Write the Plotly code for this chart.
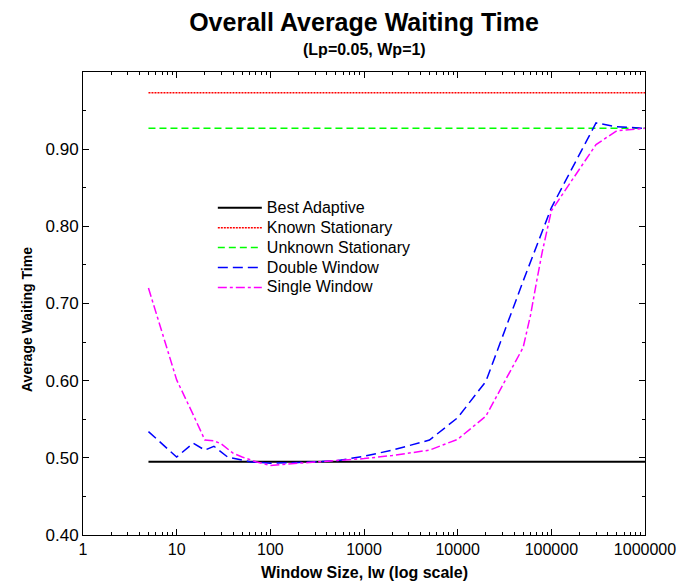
import plotly.graph_objects as go

# ---- data ----
x_flat = [5, 1000000]
best_adaptive = [0.495, 0.495]
known_stationary = [0.973, 0.973]
unknown_stationary = [0.927, 0.927]

double_x = [5, 10, 15, 20, 25, 35, 60, 100, 200, 300, 500, 1000, 2000, 5000,
            10000, 20000, 50000, 100000, 300000, 500000, 1000000]
double_y = [0.534, 0.501, 0.519, 0.510, 0.515, 0.501, 0.495, 0.493, 0.494, 0.495,
            0.496, 0.502, 0.510, 0.523, 0.552, 0.599, 0.729, 0.824, 0.934, 0.929, 0.927]

single_x = [5, 10, 15, 20, 25, 30, 40, 50, 70, 100, 200, 500, 1000, 2000, 5000,
            10000, 20000, 50000, 60000, 70000, 80000, 100000, 200000, 300000,
            500000, 1000000]
single_y = [0.720, 0.601, 0.556, 0.523, 0.522, 0.518, 0.506, 0.501, 0.495, 0.490,
            0.493, 0.496, 0.499, 0.503, 0.510, 0.524, 0.554, 0.643, 0.685, 0.730,
            0.767, 0.820, 0.875, 0.906, 0.924, 0.927]

series_names = ["Best Adaptive", "Known Stationary", "Unknown Stationary",
                "Double Window", "Single Window"]

x_tickvals = [1, 10, 100, 1000, 10000, 100000, 1000000]
x_ticktext = ["1", "10", "100", "1000", "10000", "100000", "1000000"]
y_tickvals = [0.4, 0.5, 0.6, 0.7, 0.8, 0.9]
y_ticktext = ["0.40", "0.50", "0.60", "0.70", "0.80", "0.90"]

FONT = "Liberation Sans, Arial, sans-serif"


def legend_label(s):
    return "<span style='font-size:16px'>" + s + "</span>"


fig = go.Figure()
fig.add_trace(go.Scatter(x=x_flat, y=best_adaptive, mode="lines",
                         name=legend_label(series_names[0]),
                         line=dict(color="black", width=2)))
fig.add_trace(go.Scatter(x=x_flat, y=known_stationary, mode="lines",
                         name=legend_label(series_names[1]),
                         line=dict(color="#ff0000", width=1.5, dash="2px,1px")))
fig.add_trace(go.Scatter(x=x_flat, y=unknown_stationary, mode="lines",
                         name=legend_label(series_names[2]),
                         line=dict(color="#00ff00", width=1.5, dash="7px,4px")))
fig.add_trace(go.Scatter(x=double_x, y=double_y, mode="lines",
                         name=legend_label(series_names[3]),
                         line=dict(color="#0000ff", width=1.5, dash="10px,5px")))
fig.add_trace(go.Scatter(x=single_x, y=single_y, mode="lines",
                         name=legend_label(series_names[4]),
                         line=dict(color="#ff00ff", width=1.5, dash="9px,3px,3px,3px")))

minor_x = [m * 10 ** e for e in range(0, 6) for m in range(2, 10)]
minor_y = [0.45, 0.55, 0.65, 0.75, 0.85, 0.95]

fig.update_xaxes(type="log", range=[0, 6], tickvals=x_tickvals, ticktext=x_ticktext,
                 ticks="inside", ticklen=6, tickcolor="black", showline=True,
                 linecolor="black", linewidth=1, mirror="allticks", showgrid=False,
                 zeroline=False, automargin=False,
                 tickfont=dict(family=FONT, size=16, color="black"),
                 minor=dict(tickvals=minor_x, ticks="inside", ticklen=3,
                            tickcolor="black", showgrid=False))
fig.update_yaxes(range=[0.4, 1.0], tickvals=y_tickvals, ticktext=y_ticktext,
                 ticks="inside", ticklen=6, tickcolor="black", showline=True,
                 linecolor="black", linewidth=1, mirror="allticks", showgrid=False,
                 zeroline=False, automargin=False,
                 tickfont=dict(family=FONT, size=17, color="black"),
                 minor=dict(tickvals=minor_y, ticks="inside", ticklen=3,
                            tickcolor="black", showgrid=False))

fig.update_layout(
    width=679, height=584,
    margin=dict(l=83, r=34, t=72, b=49, autoexpand=False),
    paper_bgcolor="white", plot_bgcolor="white",
    font=dict(family=FONT, color="black"),
    title=dict(text="<b>Overall Average Waiting Time</b>", x=0.5, xref="paper",
               y=1 - 22 / 584, yref="container", yanchor="middle", xanchor="center",
               font=dict(family=FONT, size=25, color="black")),
    showlegend=True,
    legend=dict(x=0.231, y=0.739, xanchor="left", yanchor="top",
                bgcolor="rgba(0,0,0,0)", borderwidth=0,
                font=dict(family=FONT, size=13, color="black"),
                itemwidth=44, tracegroupgap=0),
    annotations=[
        dict(text="<b>(Lp=0.05, Wp=1)</b>", x=0.5, y=(535 - 49) / 463, xref="paper",
             yref="paper", showarrow=False, xanchor="center", yanchor="middle",
             font=dict(family=FONT, size=16, color="black")),
        dict(text="<b>Window Size, lw (log scale)</b>", x=0.5, y=(535 - 572) / 463,
             xref="paper", yref="paper", showarrow=False, xanchor="center",
             yanchor="middle", font=dict(family=FONT, size=16, color="black")),
        dict(text="<b>Average Waiting Time</b>", x=(27 - 83) / 562, y=(535 - 320) / 463,
             xref="paper", yref="paper", showarrow=False, xanchor="center",
             yanchor="middle", textangle=-90,
             font=dict(family=FONT, size=14, color="black")),
    ],
)

fig.write_html("out.html")
